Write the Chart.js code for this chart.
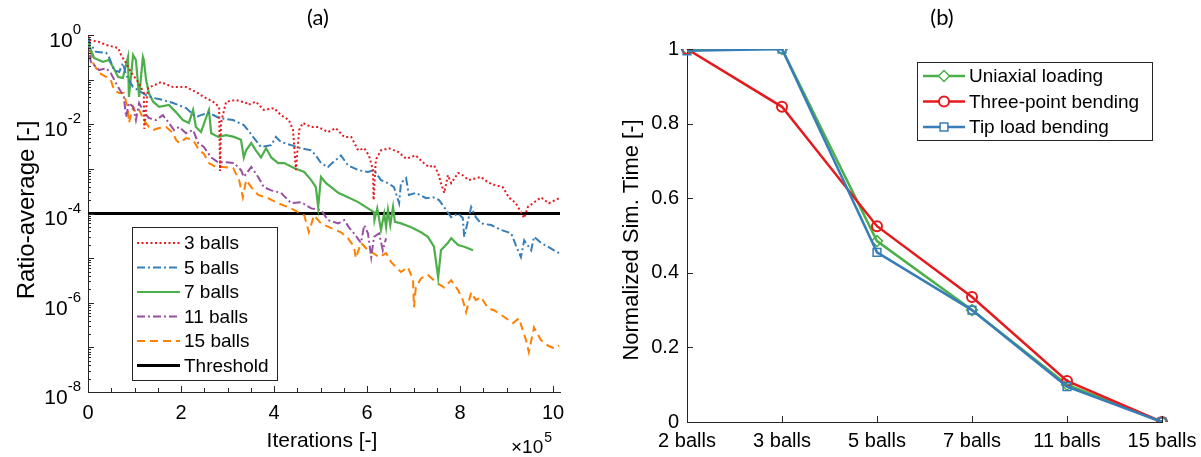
<!DOCTYPE html>
<html>
<head>
<meta charset="utf-8">
<script src="https://cdn.jsdelivr.net/npm/chart.js@4.4.1/dist/chart.umd.min.js"></script>
<style>
  html, body { margin: 0; padding: 0; background: #fff; }
  #boxA { position: absolute; left: 0; top: 0; width: 600px; height: 457px; }
  #boxB { position: absolute; left: 600px; top: 0; width: 601px; height: 457px; }
</style>
</head>
<body>
<div id="boxA"><canvas id="chartA" width="600" height="457"></canvas></div>
<div id="boxB"><canvas id="chartB" width="601" height="457"></canvas></div>
<script>
// ── Panel (a): convergence, iterations in units of 1e5 ──────────────────────
var iter3  = [0,0.02,0.24,0.39,0.65,0.71,0.77,0.82,0.92,1.08,1.20,1.21,1.29,1.57,1.83,2.11,2.32,2.49,2.69,2.82,2.84,2.86,2.97,3.18,3.40,3.44,3.61,3.78,4.00,4.15,4.32,4.41,4.47,4.54,4.62,4.80,4.95,5.16,5.33,5.51,5.66,5.81,5.94,6.04,6.13,6.14,6.19,6.30,6.47,6.67,6.84,7.05,7.20,7.33,7.44,7.53,7.59,7.66,7.74,7.81,7.96,8.06,8.19,8.45,8.60,8.73,8.92,9.05,9.20,9.31,9.38,9.46,9.57,9.74,9.91,10.13];
var ratio3 = [0.95,0.77,0.70,0.60,0.51,0.36,0.28,0.235,0.148,0.088,0.050,0.0079,0.065,0.088,0.068,0.068,0.053,0.041,0.032,0.0245,9e-4,0.0107,0.032,0.035,0.030,0.027,0.032,0.021,0.023,0.016,0.0124,0.0074,9.4e-4,0.0074,0.0107,0.0087,0.0087,0.0067,0.0082,0.0052,0.0052,0.0026,0.0029,0.0020,9.4e-4,2.0e-4,0.0016,0.0026,0.0029,0.0024,0.0017,0.0020,0.0014,0.0011,0.0012,8.1e-4,4.8e-4,2.9e-4,7.2e-4,4.8e-4,8.1e-4,7.2e-4,5.6e-4,6.6e-4,5.0e-4,4.4e-4,3.9e-4,2.3e-4,1.7e-4,1.07e-4,7.9e-5,1.4e-4,1.7e-4,2.3e-4,1.7e-4,2.2e-4];

var iter5  = [0,0.02,0.17,0.39,0.45,0.56,0.67,0.75,0.82,0.97,1.25,1.40,1.61,1.83,2.11,2.32,2.43,2.60,2.82,3.12,3.35,3.44,3.57,3.72,3.94,4.04,4.15,4.37,4.58,4.80,4.90,5.01,5.16,5.27,5.44,5.59,5.81,6.02,6.15,6.30,6.45,6.58,6.69,6.73,6.84,6.90,7.05,7.27,7.42,7.55,7.70,7.81,7.96,8.06,8.09,8.24,8.34,8.45,8.67,8.88,9.10,9.20,9.31,9.38,9.53,9.59,9.74,9.89,10.02,10.13];
var ratio5 = [0.9,0.70,0.42,0.40,0.32,0.164,0.148,0.235,0.127,0.068,0.045,0.039,0.035,0.030,0.023,0.0145,0.016,0.018,0.0138,0.0124,0.0096,0.0074,0.0049,0.0031,0.0034,0.0052,0.0040,0.0034,0.0029,0.0026,0.0020,0.00135,0.0011,0.0014,0.0020,0.0012,9.4e-4,8.5e-4,9.4e-4,5.6e-4,4.8e-4,3.9e-4,1.7e-4,4.8e-4,6.2e-4,2.6e-4,2.9e-4,2.2e-4,2.3e-4,2.0e-4,1.2e-4,8.3e-5,1.0e-4,7.9e-5,3.0e-5,1.4e-4,8.3e-5,6.0e-5,5.5e-5,4.3e-5,3.6e-5,1.96e-5,1.05e-5,2.5e-5,1.5e-5,3.0e-5,2.2e-5,1.8e-5,1.5e-5,1.3e-5];

var iter7  = [0,0.02,0.13,0.32,0.45,0.54,0.65,0.75,0.86,0.88,0.97,1.03,1.10,1.18,1.20,1.25,1.31,1.40,1.53,1.74,1.89,2.04,2.17,2.26,2.32,2.43,2.60,2.65,2.80,2.97,3.14,3.29,3.35,3.40,3.51,3.61,3.72,3.83,3.94,4.09,4.22,4.43,4.65,4.80,4.90,4.95,5.01,5.12,5.23,5.38,5.59,5.81,6.02,6.15,6.16,6.22,6.30,6.37,6.41,6.45,6.50,6.56,6.60,6.73,6.95,7.16,7.31,7.44,7.53,7.59,7.74,7.81,7.96,8.09,8.28];
var ratio7 = [0.85,0.60,0.305,0.25,0.275,0.19,0.115,0.109,0.32,0.041,0.355,0.275,0.041,0.32,0.275,0.098,0.050,0.032,0.0245,0.027,0.0187,0.0124,0.0107,0.021,0.0087,0.0067,0.021,0.0063,0.0052,0.0057,0.0052,0.0045,0.0018,0.0026,0.0038,0.0026,0.0018,0.0029,0.0018,0.00135,0.00135,0.00105,8.5e-4,5.6e-4,3.9e-4,1.4e-4,6.6e-4,4.8e-4,3.9e-4,2.9e-4,2.3e-4,1.8e-4,1.3e-4,1.07e-4,7.1e-5,1.3e-4,4.3e-5,1.0e-4,5e-5,1.2e-4,5.5e-5,1.4e-4,6.5e-5,6.0e-5,4.9e-5,3.8e-5,3.0e-5,1.8e-5,3.7e-6,1.5e-5,2.2e-5,2.8e-5,1.96e-5,1.8e-5,1.5e-5];

var iter11  = [0,0.06,0.24,0.39,0.49,0.60,0.71,0.77,0.82,0.88,0.97,1.03,1.10,1.20,1.31,1.46,1.61,1.74,1.85,1.96,2.11,2.26,2.37,2.49,2.65,2.80,2.97,3.14,3.29,3.35,3.51,3.66,3.78,3.94,4.15,4.37,4.58,4.80,5.01,5.16,5.38,5.51,5.61,5.72,5.87,5.94,6.02,6.09,6.15,6.26,6.34,6.41];
var ratio11 = [0.8,0.25,0.164,0.18,0.14,0.084,0.053,0.041,0.0145,0.030,0.0245,0.0124,0.030,0.0187,0.0138,0.0124,0.016,0.0107,0.0074,0.0087,0.0063,0.0074,0.0038,0.0031,0.0018,0.0014,0.0014,0.00135,9.4e-4,6.6e-4,0.0011,6.6e-4,3.9e-4,3.3e-4,2.9e-4,1.7e-4,1.8e-4,1.3e-4,1.2e-4,7.1e-5,6.0e-5,7.1e-5,4.9e-5,3.6e-5,2.2e-5,5.5e-5,3.6e-5,1.05e-5,3.0e-5,3.6e-5,1.5e-5,2.8e-5];

var iter15  = [0,0.11,0.24,0.39,0.49,0.56,0.67,0.77,0.86,0.88,0.97,1.03,1.10,1.20,1.31,1.40,1.53,1.68,1.83,1.89,1.96,2.11,2.26,2.39,2.49,2.60,2.75,2.90,3.12,3.25,3.33,3.40,3.51,3.66,3.87,4.09,4.30,4.52,4.65,4.75,4.86,5.01,5.23,5.44,5.59,5.72,5.76,5.87,6.02,6.13,6.26,6.41,6.52,6.73,6.88,6.99,7.01,7.05,7.16,7.31,7.48,7.66,7.81,7.96,8.06,8.13,8.24,8.34,8.45,8.60,8.73,8.95,9.14,9.27,9.35,9.42,9.48,9.59,9.74,9.89,10.02,10.13];
var ratio15 = [0.9,0.235,0.14,0.115,0.098,0.059,0.050,0.050,0.021,0.0107,0.0245,0.018,0.021,0.0124,0.0087,0.0074,0.0082,0.0087,0.0063,0.0045,0.0038,0.0049,0.0045,0.0026,0.0022,0.00135,0.0011,0.0011,0.00105,5.6e-4,2.3e-4,5.6e-4,3.9e-4,2.6e-4,2.2e-4,1.7e-4,1.4e-4,1.07e-4,9.1e-5,3.8e-5,9.1e-5,6.0e-5,4.7e-5,3.8e-5,2.8e-5,1.8e-5,1.0e-5,2.2e-5,1.5e-5,1.3e-5,1.05e-5,1.3e-5,8.1e-6,4.9e-6,6.3e-6,3.2e-6,7.9e-7,2.2e-6,3.5e-6,4.2e-6,2.9e-6,2.2e-6,3.2e-6,1.9e-6,1.15e-6,6.2e-7,1.7e-6,1.15e-6,1.35e-6,7.6e-7,6.8e-7,4.8e-7,3.5e-7,4.5e-7,2.4e-7,1.45e-7,7.8e-8,2.8e-7,1.45e-7,1.1e-7,9.5e-8,1.1e-7];

var thresholdIter  = [0, 10.15];
var thresholdRatio = [1e-4, 1e-4];

var seriesNames  = ['3 balls','5 balls','7 balls','11 balls','15 balls','Threshold'];
var xTickValsA   = [0,2,4,6,8,10];
var yTickExpA    = [0,-2,-4,-6,-8];

// ── Panel (b): normalized simulation time ──────────────────────────────────
var caseLabels  = ['2 balls','3 balls','5 balls','7 balls','11 balls','15 balls'];
var uniaxial    = [1, 1, 0.485, 0.30, 0.10, 0];
var threePoint  = [1, 0.845, 0.525, 0.335, 0.11, 0];
var tipLoad     = [0.995, 1, 0.455, 0.30, 0.095, 0];
var loadNames   = ['Uniaxial loading','Three-point bending','Tip load bending'];
var yTickValsB  = [0, 0.2, 0.4, 0.6, 0.8, 1];

var cRed = '#e41a1c', cBlue = '#377eb8', cGreen = '#4daf4a', cPurple = '#984ea3', cOrange = '#ff7f00';
var axisCol = '#262626';
var FONT = '"Liberation Sans", Arial, sans-serif';

function pts(xs, ys) {
    return xs.map(function (x, i) { return { x: x, y: ys[i] }; });
}

function line(ctx, x1, y1, x2, y2) {
    ctx.beginPath(); ctx.moveTo(x1, y1); ctx.lineTo(x2, y2); ctx.stroke();
}

// "10" with a raised exponent, right-aligned at xr
function drawPow(ctx, base, exp, xr, ym, fs) {
    var fe = Math.round(fs * 0.7);
    ctx.textBaseline = 'middle';
    ctx.textAlign = 'left';
    ctx.font = fe + 'px ' + FONT;
    var ew = ctx.measureText(exp).width;
    ctx.font = fs + 'px ' + FONT;
    var bw = ctx.measureText(base).width;
    ctx.fillText(base, xr - ew - bw, ym + 6);
    ctx.font = fe + 'px ' + FONT;
    ctx.fillText(exp, xr - ew, ym - 5);
}

// ── Decorations for (a) ─────────────────────────────────────────────────────
var decoA = {
    id: 'decoA',
    afterDraw: function (chart) {
        var ctx = chart.ctx, xs = chart.scales.x, ys = chart.scales.y, a = chart.chartArea;
        ctx.save();
        ctx.strokeStyle = axisCol; ctx.lineWidth = 1; ctx.setLineDash([]);
        // x ticks, inward
        for (var v = 0; v <= 10; v += 0.5) {
            var px = Math.round(xs.getPixelForValue(v)) + 0.5;
            line(ctx, px, a.bottom, px, a.bottom - (v % 2 === 0 ? 6 : 4));
        }
        // y ticks (log), inward
        for (var e = -8; e <= 0; e++) {
            var py = Math.round(ys.getPixelForValue(Math.pow(10, e))) + 0.5;
            line(ctx, a.left, py, a.left + 6, py);
            if (e < 0) {
                for (var m = 2; m <= 9; m++) {
                    var pm = Math.round(ys.getPixelForValue(m * Math.pow(10, e))) + 0.5;
                    line(ctx, a.left, pm, a.left + 3, pm);
                }
            }
        }
        ctx.fillStyle = '#000';
        // tick labels
        ctx.font = '20px ' + FONT; ctx.textAlign = 'center'; ctx.textBaseline = 'middle';
        xTickValsA.forEach(function (t) { ctx.fillText(String(t), xs.getPixelForValue(t), a.bottom + 21); });
        yTickExpA.forEach(function (t) {
            drawPow(ctx, '10', String(t), a.left - 7, ys.getPixelForValue(Math.pow(10, t)), 21);
        });
        // axis titles
        ctx.font = '21px ' + FONT; ctx.textAlign = 'center';
        ctx.fillText('Iterations [-]', 322, 441);
        ctx.font = '19px ' + FONT; ctx.textAlign = 'left';
        ctx.fillText('\u00d710', 511, 448);
        var w10 = ctx.measureText('\u00d710').width;
        ctx.font = '14px ' + FONT;
        ctx.fillText('5', 511 + w10 + 1, 438);
        ctx.save();
        ctx.translate(27, 210); ctx.rotate(-Math.PI / 2);
        ctx.font = '24px ' + FONT; ctx.textAlign = 'center';
        ctx.fillText('Ratio-average [-]', 0, 0);
        ctx.restore();
        ctx.font = '22px Lato, "Open Sans", sans-serif'; ctx.textAlign = 'center';
        ctx.fillText('(a)', 318, 18);
        // legend
        var lx = 132, ly = 227, lw = 145, lh = 153;
        ctx.fillStyle = '#fff'; ctx.fillRect(lx, ly, lw, lh);
        ctx.strokeStyle = '#262626'; ctx.lineWidth = 1;
        ctx.strokeRect(lx + 0.5, ly + 0.5, lw, lh);
        chart.data.datasets.forEach(function (ds, i) {
            var ry = 243 + i * 24.5;
            ctx.strokeStyle = ds.borderColor; ctx.lineWidth = ds.borderWidth;
            ctx.setLineDash(ds.borderDash || []);
            line(ctx, 137, ry, 180, ry);
            ctx.setLineDash([]);
            ctx.fillStyle = '#000'; ctx.font = '19px ' + FONT;
            ctx.textAlign = 'left'; ctx.textBaseline = 'middle';
            ctx.fillText(ds.label, 184, ry + 1);
        });
        ctx.restore();
    }
};

// ── Decorations for (b) ─────────────────────────────────────────────────────
var decoB = {
    id: 'decoB',
    afterDraw: function (chart) {
        var ctx = chart.ctx, xs = chart.scales.x, ys = chart.scales.y, a = chart.chartArea;
        ctx.save();
        ctx.strokeStyle = axisCol; ctx.lineWidth = 1;
        caseLabels.forEach(function (c, i) {
            var px = Math.round(xs.getPixelForValue(i)) + 0.5;
            line(ctx, px, a.bottom, px, a.bottom - 6);
        });
        yTickValsB.forEach(function (t) {
            var py = Math.round(ys.getPixelForValue(t)) + 0.5;
            line(ctx, a.left, py, a.left + 6, py);
        });
        ctx.fillStyle = '#000';
        ctx.font = '20px ' + FONT; ctx.textAlign = 'center'; ctx.textBaseline = 'middle';
        caseLabels.forEach(function (c, i) { ctx.fillText(c, xs.getPixelForValue(i), a.bottom + 19); });
        ctx.textAlign = 'right';
        yTickValsB.forEach(function (t) { ctx.fillText(String(t), a.left - 8, ys.getPixelForValue(t)); });
        ctx.save();
        ctx.translate(32, 240); ctx.rotate(-Math.PI / 2);
        ctx.font = '22px ' + FONT; ctx.textAlign = 'center';
        ctx.fillText('Normalized Sim. Time [-]', 0, 0);
        ctx.restore();
        ctx.font = '22px Lato, "Open Sans", sans-serif'; ctx.textAlign = 'center';
        ctx.fillText('(b)', 342, 18);
        // legend
        var lx = 317, ly = 62, lw = 235, lh = 78;
        ctx.fillStyle = '#fff'; ctx.fillRect(lx, ly, lw, lh);
        ctx.strokeStyle = '#262626'; ctx.lineWidth = 1;
        ctx.strokeRect(lx + 0.5, ly + 0.5, lw, lh);
        chart.data.datasets.forEach(function (ds, i) {
            var ry = 76 + i * 25.5;
            ctx.strokeStyle = ds.borderColor; ctx.lineWidth = ds.borderWidth;
            line(ctx, 323, ry, 365, ry);
            ctx.fillStyle = '#fff';
            ctx.lineWidth = ds.pointBorderWidth;
            Chart.helpers.drawPoint(ctx, {
                pointStyle: ds.pointStyle, radius: ds.pointRadius, borderWidth: ds.pointBorderWidth, rotation: 0
            }, 344, ry);
            ctx.fillStyle = '#000'; ctx.font = '19px ' + FONT;
            ctx.textAlign = 'left'; ctx.textBaseline = 'middle';
            ctx.fillText(ds.label, 369, ry + 1);
        });
        ctx.restore();
    }
};

function fixWidth(w)  { return function (s) { s.width = w; }; }
function fixHeight(h) { return function (s) { s.height = h; }; }

new Chart(document.getElementById('chartA'), {
    type: 'line',
    data: {
        datasets: [
            { label: seriesNames[0], data: pts(iter3, ratio3),   borderColor: cRed,    borderWidth: 2,   borderDash: [2, 2.5] },
            { label: seriesNames[1], data: pts(iter5, ratio5),   borderColor: cBlue,   borderWidth: 2,   borderDash: [8, 3, 2, 3] },
            { label: seriesNames[2], data: pts(iter7, ratio7),   borderColor: cGreen,  borderWidth: 2.2 },
            { label: seriesNames[3], data: pts(iter11, ratio11), borderColor: cPurple, borderWidth: 2,   borderDash: [8, 3, 2, 3] },
            { label: seriesNames[4], data: pts(iter15, ratio15), borderColor: cOrange, borderWidth: 2,   borderDash: [8, 5] },
            { label: seriesNames[5], data: pts(thresholdIter, thresholdRatio), borderColor: '#000', borderWidth: 3 }
        ]
    },
    options: {
        responsive: false, animation: false, devicePixelRatio: 1,
        layout: { padding: { top: 35, right: 40, left: 0, bottom: 0 } },
        elements: { point: { radius: 0 }, line: { tension: 0, fill: false } },
        plugins: { legend: { display: false }, tooltip: { enabled: false } },
        scales: {
            x: {
                type: 'linear', min: 0, max: 10.15,
                grid: { display: false }, ticks: { display: false },
                border: { display: true, color: axisCol, width: 1 },
                afterFit: fixHeight(65)
            },
            y: {
                type: 'logarithmic', min: 1e-8, max: 1,
                grid: { display: false }, ticks: { display: false },
                border: { display: true, color: axisCol, width: 1 },
                afterFit: fixWidth(88)
            }
        }
    },
    plugins: [decoA]
});

new Chart(document.getElementById('chartB'), {
    type: 'line',
    data: {
        labels: caseLabels,
        datasets: [
            { label: loadNames[0], data: uniaxial,   borderColor: cGreen, pointBorderColor: cGreen, borderWidth: 2.5,
              pointStyle: 'rectRot', pointRadius: 5.5, pointBorderWidth: 1.5, pointBackgroundColor: 'rgba(0,0,0,0)', order: 3 },
            { label: loadNames[1], data: threePoint, borderColor: cRed,   pointBorderColor: cRed,   borderWidth: 2.5,
              pointStyle: 'circle',  pointRadius: 5, pointBorderWidth: 2,   pointBackgroundColor: 'rgba(0,0,0,0)', order: 2 },
            { label: loadNames[2], data: tipLoad,    borderColor: cBlue,  pointBorderColor: cBlue,  borderWidth: 2.5,
              pointStyle: 'rect',    pointRadius: 5.5, pointBorderWidth: 1.5, pointBackgroundColor: 'rgba(0,0,0,0)', order: 1 }
        ]
    },
    options: {
        responsive: false, animation: false, devicePixelRatio: 1,
        layout: { padding: { top: 49, right: 39, left: 0, bottom: 0 } },
        elements: { line: { tension: 0, fill: false } },
        plugins: { legend: { display: false }, tooltip: { enabled: false } },
        scales: {
            x: {
                type: 'category', offset: false,
                grid: { display: false }, ticks: { display: false },
                border: { display: true, color: axisCol, width: 1 },
                afterFit: fixHeight(35)
            },
            y: {
                min: 0, max: 1,
                grid: { display: false }, ticks: { display: false },
                border: { display: true, color: axisCol, width: 1 },
                afterFit: fixWidth(87)
            }
        }
    },
    plugins: [decoB]
});
</script>
</body>
</html>
